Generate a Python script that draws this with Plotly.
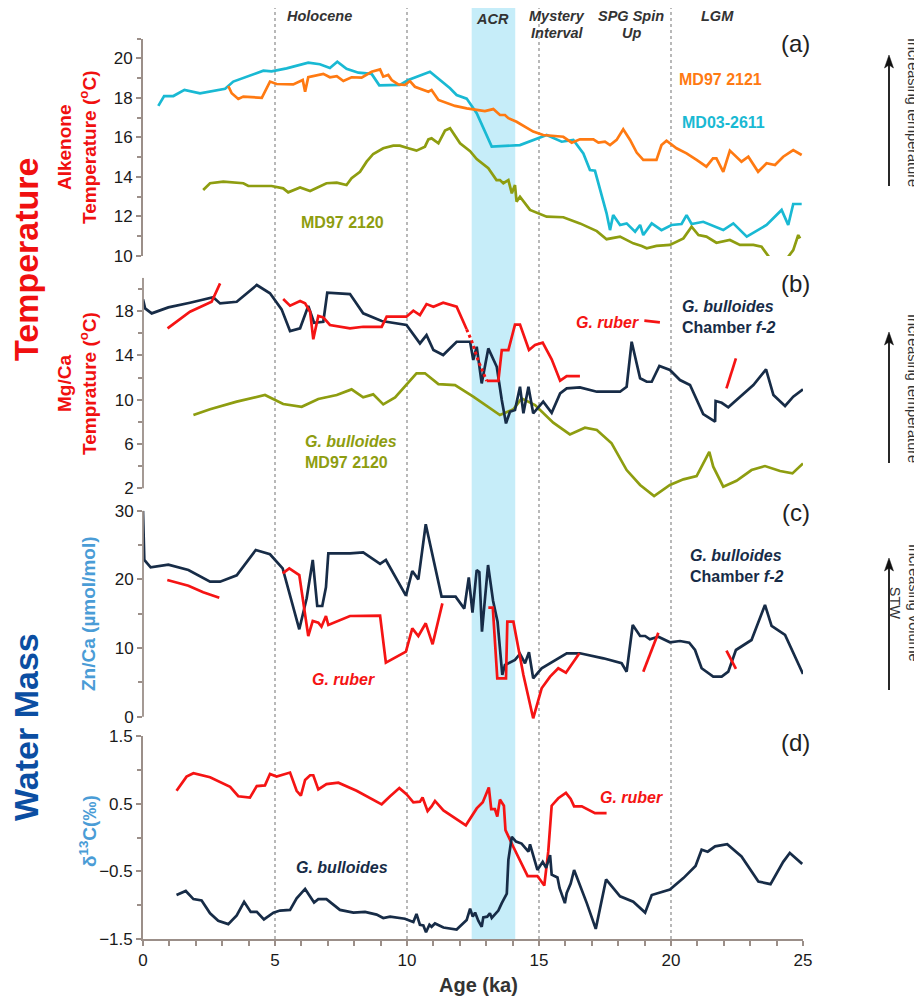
import plotly.graph_objects as go

# ---------------- DATA ----------------
# Panel (a) alkenone temperature (°C)
md03_age = [0.58, 0.80, 1.15, 1.57, 2.16, 3.11, 3.42, 4.56, 4.87, 5.44, 6.26, 6.70, 7.08, 7.36, 7.71, 8.16,
            8.66, 8.95, 9.73, 10.05, 10.87, 11.63, 11.88, 12.26, 12.64, 13.21, 14.28, 15.29, 15.86, 16.30,
            16.68, 16.93, 17.12, 17.56, 17.69, 17.81, 18.07, 18.32, 18.64, 18.83, 18.95, 19.27, 19.64,
            20.02, 20.40, 20.59, 20.78, 21.22, 21.98, 22.36, 22.87, 23.62, 24.19, 24.44, 24.63, 24.95]
md03_t = [17.59, 18.09, 18.09, 18.40, 18.23, 18.46, 18.82, 19.37, 19.34, 19.49, 19.78, 19.70, 19.51, 19.83,
          19.47, 19.27, 19.21, 18.63, 18.65, 18.90, 19.32, 18.48, 18.14, 17.96, 17.22, 15.53, 15.61, 16.12,
          15.78, 15.87, 15.19, 14.35, 14.31, 12.16, 11.31, 12.07, 11.57, 11.65, 11.23, 11.57, 11.06, 11.65,
          11.31, 11.57, 11.62, 12.07, 11.62, 11.73, 11.31, 11.65, 10.98, 11.57, 12.33, 11.57, 12.63, 12.63]

md2121_age = [3.23, 3.36, 3.61, 3.80, 4.50, 4.81, 5.06, 5.69, 6.05, 6.14, 6.26, 6.83, 7.08, 7.34, 7.59, 7.90,
              8.28, 8.66, 8.98, 9.10, 9.29, 9.42, 9.67, 9.92, 10.11, 10.30, 10.81, 10.93, 11.19, 11.82,
              12.26, 12.95, 13.27, 13.52, 13.71, 13.84, 14.15, 14.78, 15.16, 15.92, 16.24, 16.55, 17.06,
              17.25, 17.50, 17.69, 17.94, 18.19, 18.45, 18.70, 18.95, 19.45, 19.64, 19.83, 20.21, 20.59,
              20.97, 21.34, 21.59, 21.72, 21.98, 22.23, 22.67, 22.93, 23.30, 23.62, 23.94, 24.25, 24.63, 24.95]
md2121_t = [18.60, 18.23, 17.94, 18.06, 18.00, 18.82, 18.70, 18.68, 18.90, 18.31, 19.04, 19.21, 19.04, 19.10,
            18.85, 19.04, 19.02, 19.32, 19.44, 19.07, 19.16, 18.90, 18.68, 18.65, 18.85, 18.56, 18.31, 18.40,
            17.89, 17.59, 17.47, 17.33, 17.43, 17.13, 17.13, 16.97, 16.79, 16.29, 16.12, 16.03, 15.73, 15.90,
            15.90, 15.73, 15.78, 15.61, 15.87, 16.41, 15.87, 15.23, 14.86, 14.86, 15.61, 15.83, 15.45, 15.19,
            14.86, 14.52, 14.94, 14.94, 14.26, 15.33, 14.77, 15.02, 14.26, 14.69, 14.60, 15.02, 15.36, 15.11]

md2120_age = [2.28, 2.54, 3.04, 3.80, 3.99, 4.56, 4.87, 5.31, 5.50, 5.95, 6.33, 6.95, 7.34, 7.71, 7.90, 8.22,
              8.47, 8.72, 9.10, 9.48, 9.73, 10.05, 10.36, 10.68, 10.81, 10.93, 11.19, 11.44, 11.63, 12.01,
              12.39, 12.64, 12.89, 13.08, 13.39, 13.52, 13.65, 13.84, 13.97, 14.09, 14.15, 14.28, 14.66,
              15.29, 15.92, 16.55, 17.19, 17.56, 18.07, 18.57, 18.89, 19.08, 19.45, 19.96, 20.47, 20.78,
              21.04, 21.34, 21.72, 22.23, 22.61, 23.12, 23.43, 23.75, 24.06, 24.44, 24.63, 24.82, 24.89]
md2120_t = [13.34, 13.68, 13.76, 13.68, 13.54, 13.54, 13.54, 13.42, 13.22, 13.47, 13.29, 13.68, 13.71, 13.59,
            13.93, 14.26, 14.77, 15.16, 15.45, 15.58, 15.58, 15.45, 15.33, 15.53, 15.90, 15.95, 15.70, 16.34,
            16.46, 15.70, 15.30, 14.90, 14.65, 14.44, 13.84, 13.84, 13.68, 13.84, 13.17, 13.59, 12.75, 13.00,
            12.33, 11.99, 11.96, 11.65, 11.26, 10.85, 10.98, 10.64, 10.51, 10.39, 10.51, 10.56, 10.89, 11.48,
            11.06, 10.98, 10.67, 10.81, 10.56, 10.56, 10.47, 9.88, 9.68, 9.96, 10.30, 11.06, 10.89]

# Panel (b) Mg/Ca temperature (°C)
bul_mg_age = [0.00, 0.08, 0.33, 0.96, 1.78, 2.66, 2.92, 3.55, 4.31, 4.81, 5.25, 5.57, 5.95, 6.26, 6.48, 6.83,
              6.98, 7.84, 8.34, 9.04, 9.98, 10.49, 10.74, 11.00, 11.37, 11.88, 12.39, 12.51, 12.64, 12.83,
              13.08, 13.40, 13.59, 13.75, 13.90, 14.09, 14.28, 14.41, 14.60, 14.78, 15.16, 15.48, 15.80,
              16.05, 16.55, 17.19, 18.07, 18.32, 18.51, 18.83, 19.08, 19.27, 19.56, 19.96, 20.34, 20.72,
              21.22, 21.67, 21.69, 21.92, 22.17, 22.61, 23.12, 23.60, 23.88, 24.32, 24.63, 25.00]
bul_mg_t = [19.06, 18.24, 17.79, 18.33, 18.75, 19.24, 18.69, 18.84, 20.35, 19.60, 18.15, 16.19, 16.44, 18.45,
            16.94, 17.03, 19.65, 19.53, 17.79, 17.10, 16.74, 15.08, 15.83, 14.48, 14.03, 15.23, 15.23, 13.58,
            14.78, 11.47, 14.63, 12.97, 9.97, 7.86, 8.91, 9.07, 11.17, 8.77, 11.17, 8.77, 9.82, 8.82, 10.57,
            11.02, 11.11, 10.72, 10.72, 11.17, 15.23, 11.93, 11.62, 11.62, 13.04, 12.68, 11.77, 11.32, 8.70,
            8.01, 9.88, 9.72, 9.31, 10.27, 11.32, 12.74, 10.42, 9.43, 10.27, 10.93]

olive_mg_age = [1.91, 2.54, 3.55, 4.62, 5.31, 6.01, 6.64, 7.34, 7.90, 8.34, 8.72, 9.10, 9.55, 9.92, 10.36,
                10.68, 11.19, 11.82, 12.51, 13.52, 14.03, 14.34, 14.85, 15.54, 16.17, 16.74, 17.19, 17.75,
                18.32, 18.83, 19.36, 19.96, 20.47, 20.97, 21.45, 21.60, 21.98, 22.48, 23.05, 23.56, 24.13,
                24.60, 25.00]
olive_mg_t = [8.61, 9.13, 9.82, 10.42, 9.61, 9.36, 10.06, 10.42, 10.93, 10.21, 10.48, 9.58, 10.21, 11.17,
              12.38, 12.38, 11.41, 11.32, 10.27, 8.61, 9.13, 10.12, 9.52, 7.92, 6.87, 7.47, 7.26, 6.06, 3.65,
              2.30, 1.30, 2.30, 2.81, 3.11, 5.30, 3.95, 2.15, 2.68, 3.65, 4.01, 3.56, 3.35, 4.25]

ruber_mg1_age = [0.93, 1.78, 2.60, 2.92]
ruber_mg1_t = [16.44, 17.94, 18.84, 20.50]
ruber_mg2_age = [5.31, 5.57, 5.95, 6.14, 6.33, 6.45, 6.64, 6.83, 7.08, 7.84, 8.34, 9.04, 9.23, 9.98, 10.24,
                 10.49, 10.74, 11.00, 11.37, 11.88, 12.26]
ruber_mg2_t = [19.08, 18.48, 18.90, 18.69, 17.94, 15.45, 17.55, 17.43, 16.74, 16.44, 16.58, 16.58, 17.49,
               17.49, 18.03, 17.64, 18.63, 18.39, 18.75, 18.39, 16.35]
ruber_mg_dot_age = [12.26, 12.45, 12.70, 13.02]
ruber_mg_dot_t = [16.35, 15.30, 13.50, 11.70]
ruber_mg3_age = [13.02, 13.46, 13.59, 13.84, 14.09, 14.28, 14.62, 14.85, 15.14, 15.48, 15.80, 16.05, 16.55]
ruber_mg3_t = [11.70, 11.70, 14.48, 14.48, 16.77, 16.77, 14.48, 14.93, 15.14, 13.65, 11.72, 12.13, 12.13]
ruber_mg4_age = [18.99, 19.58]
ruber_mg4_t = [17.13, 16.98]
ruber_mg5_age = [22.10, 22.46]
ruber_mg5_t = [11.02, 13.73]

# Panel (c) Zn/Ca (µmol/mol)
bul_zn_age = [0.00, 0.05, 0.29, 0.96, 1.72, 2.54, 2.92, 3.55, 4.27, 4.81, 5.29, 5.92, 6.20, 6.43, 6.60, 6.79,
              6.93, 7.02, 7.84, 8.34, 8.98, 9.20, 9.96, 10.20, 10.43, 10.71, 11.31, 11.84, 12.17, 12.34,
              12.48, 12.64, 12.74, 12.84, 13.07, 13.26, 13.43, 13.61, 13.71, 14.09, 14.28, 14.47, 14.62,
              14.78, 15.10, 15.73, 16.05, 16.55, 17.44, 18.13, 18.32, 18.55, 18.83, 19.02, 19.20, 19.52,
              19.96, 20.34, 20.69, 20.91, 21.16, 21.60, 21.92, 22.17, 22.46, 23.05, 23.56, 23.81, 24.32, 25.00]
bul_zn = [30.0, 22.82, 21.75, 22.13, 21.36, 19.66, 19.66, 20.59, 24.27, 23.65, 21.61, 12.73, 17.24, 22.82,
          16.12, 16.12, 18.84, 23.79, 23.79, 23.94, 22.24, 22.82, 17.62, 21.22, 20.00, 28.02, 17.48, 17.48,
          15.74, 20.27, 15.15, 21.36, 21.05, 12.38, 22.09, 16.88, 13.83, 6.07, 7.53, 8.26, 9.13, 7.78, 9.38,
          5.59, 7.05, 8.50, 9.23, 9.23, 8.50, 7.78, 6.55, 13.35, 11.75, 11.75, 11.27, 11.65, 10.83, 11.02,
          10.78, 9.71, 7.05, 5.83, 5.83, 6.55, 9.71, 11.17, 16.27, 13.21, 11.90, 6.22]

ruber_zn1_age = [0.92, 1.72, 2.28, 2.89]
ruber_zn1 = [19.90, 19.08, 18.11, 17.33]
ruber_zn2_age = [5.29, 5.54, 5.92, 6.26, 6.43, 6.64, 6.76, 6.93, 7.02, 7.84, 8.98, 9.20, 9.96, 10.20, 10.43,
                 10.71, 10.97, 11.34]
ruber_zn2 = [20.88, 21.61, 20.63, 11.75, 13.94, 13.69, 13.11, 14.66, 13.35, 14.66, 14.71, 7.86, 9.47, 12.87,
             11.75, 13.60, 10.54, 16.51]
ruber_zn3_age = [13.08, 13.25, 13.42, 13.75, 13.80, 14.03, 14.41, 14.78, 15.10, 15.42, 15.73, 16.02, 16.53]
ruber_zn3 = [15.87, 15.87, 5.59, 5.59, 13.83, 13.83, 6.07, -0.24, 4.13, 5.83, 7.05, 6.41, 9.23]
ruber_zn4_age = [18.95, 19.52]
ruber_zn4 = [6.55, 12.23]
ruber_zn5_age = [22.10, 22.46]
ruber_zn5 = [9.61, 6.95]

# Panel (d) δ13C (‰)
ruber_d13_age = [1.27, 1.65, 1.91, 2.54, 3.30, 3.61, 4.05, 4.31, 4.62, 4.81, 5.06, 5.57, 5.82, 5.98, 6.14,
                 6.33, 6.45, 6.64, 6.95, 7.40, 8.09, 9.04, 9.36, 9.71, 9.98, 10.24, 10.49, 10.59, 10.78, 10.93,
                 11.06, 11.38, 12.23, 12.45, 12.64, 12.87, 13.10, 13.19, 13.33, 13.42, 13.52, 13.67, 13.73,
                 14.03, 14.57, 14.94, 15.20, 15.35, 15.48, 15.73, 16.02, 16.20, 16.33, 16.62, 17.12, 17.56]
ruber_d13 = [0.69, 0.90, 0.95, 0.89, 0.75, 0.61, 0.59, 0.76, 0.77, 0.94, 0.90, 0.96, 0.69, 0.62, 0.85,
             0.92, 0.92, 0.71, 0.79, 0.81, 0.69, 0.49, 0.61, 0.73, 0.64, 0.52, 0.53, 0.59, 0.39, 0.46,
             0.54, 0.40, 0.18, 0.31, 0.43, 0.52, 0.74, 0.42, 0.42, 0.31, 0.56, 0.47, 0.11,
             -0.14, -0.57, -0.57, -0.71, -0.21, 0.47, 0.58, 0.66, 0.57, 0.46, 0.46, 0.36, 0.36]

bul_d13_age = [1.27, 1.62, 1.91, 2.22, 2.54, 2.85, 3.23, 3.55, 3.83, 4.08, 4.31, 4.58, 4.94, 5.19, 5.57,
               5.82, 6.14, 6.48, 6.64, 6.95, 7.46, 7.97, 8.41, 8.85, 9.10, 9.36, 9.92, 10.24, 10.36, 10.49,
               10.62, 10.72, 10.85, 10.93, 11.06, 11.38, 11.88, 12.26, 12.39, 12.49, 12.58, 12.70, 12.83,
               12.89, 13.04, 13.14, 13.21, 13.46, 13.59, 13.78, 13.84, 13.97, 14.13, 14.34, 14.60, 14.66,
               14.94, 15.14, 15.27, 15.42, 15.48, 15.70, 15.78, 15.98, 16.05, 16.20, 16.33, 16.81, 17.15,
               17.54, 18.07, 18.57, 19.02, 19.27, 19.96, 20.47, 20.93, 21.16, 21.39, 21.67, 22.13, 22.67,
               23.31, 23.77, 24.25, 24.50, 24.97]
bul_d13 = [-0.85, -0.79, -0.91, -0.93, -1.12, -1.23, -1.28, -1.15, -0.95, -1.10, -1.10, -1.21, -1.11, -1.08,
           -1.07, -0.90, -0.76, -0.96, -0.91, -0.91, -1.07, -1.11, -1.10, -1.14, -1.19, -1.17, -1.20, -1.25,
           -1.13, -1.29, -1.30, -1.40, -1.29, -1.32, -1.27, -1.33, -1.36, -1.22, -1.05, -1.17, -1.11, -1.23,
           -1.32, -1.18, -1.17, -1.12, -1.19, -1.08, -0.97, -0.83, -0.33, 0.01, -0.06, -0.09, -0.21, -0.10,
           -0.48, -0.36, -0.45, -0.26, -0.55, -0.59, -0.75, -0.97, -0.82, -0.68, -0.48, -0.97, -1.35,
           -0.62, -0.87, -0.95, -1.11, -0.85, -0.77, -0.60, -0.42, -0.18, -0.21, -0.13, -0.10, -0.28,
           -0.65, -0.69, -0.36, -0.23, -0.39]

# period labels: one entry per text line
period_lines = ["Holocene", "ACR", "Mystery", "Interval", "SPG Spin", "Up", "LGM"]
period_x = [6.7, 13.25, 15.7, 15.7, 18.5, 18.5, 21.75]
period_row = [0, 0, 0, 1, 0, 1, 0]
boundaries = [5, 10, 15, 20]
acr_band = [12.45, 14.1]

# ---------------- STYLE ----------------
W, H = 922, 1000
OFF = 8                      # default page body margin
SX0, SX1 = 143, 803          # screen x of age 0 and age 25
ML = SX0 - OFF
MR = W - ML - (SX1 - SX0)
FONT = "Liberation Sans, Arial, sans-serif"
AX = "#9b8f89"
CYAN = "#19b9d3"
ORANGE = "#ff7a12"
OLIVE = "#8e9d10"
NAVY = "#172c47"
RED = "#f51414"
LBLUE = "#4a9cd6"


def px(xs):
    return (xs - SX0) / (SX1 - SX0)


def py(ys):
    return 1 - (ys - OFF) / H


fig = go.Figure()


def line(x, y, color, yaxis, width=2.7, dash=None):
    fig.add_trace(go.Scatter(x=x, y=y, mode="lines", yaxis=yaxis, hoverinfo="skip", showlegend=False,
                             line=dict(color=color, width=width, dash=dash)))


# panel a
line(md03_age, md03_t, CYAN, "y")
line(md2121_age, md2121_t, ORANGE, "y")
line(md2120_age, md2120_t, OLIVE, "y")
# panel b
line(olive_mg_age, olive_mg_t, OLIVE, "y2")
line(bul_mg_age, bul_mg_t, NAVY, "y2")
for a, v in [(ruber_mg1_age, ruber_mg1_t), (ruber_mg2_age, ruber_mg2_t), (ruber_mg3_age, ruber_mg3_t),
             (ruber_mg4_age, ruber_mg4_t), (ruber_mg5_age, ruber_mg5_t)]:
    line(a, v, RED, "y2")
line(ruber_mg_dot_age, ruber_mg_dot_t, RED, "y2", width=3, dash="dot")
# panel c
line(bul_zn_age, bul_zn, NAVY, "y3")
for a, v in [(ruber_zn1_age, ruber_zn1), (ruber_zn2_age, ruber_zn2), (ruber_zn3_age, ruber_zn3),
             (ruber_zn4_age, ruber_zn4), (ruber_zn5_age, ruber_zn5)]:
    line(a, v, RED, "y3")
# panel d
line(ruber_d13_age, ruber_d13, RED, "y4")
line(bul_d13_age, bul_d13, NAVY, "y4")

tickfont = dict(family=FONT, size=17, color="#1a1a1a")


def yax(domain, rng, tick0, dtick, mdtick, showline):
    return dict(domain=domain, range=rng, anchor="x", tick0=tick0, dtick=dtick, ticks="outside",
                ticklen=5, tickwidth=1.5, tickcolor=AX, showline=showline, linecolor=AX, linewidth=1.8,
                showgrid=False, zeroline=False, tickfont=tickfont, fixedrange=True, automargin=False,
                minor=dict(dtick=mdtick, tick0=tick0, ticks="outside", ticklen=4, tickwidth=1.5,
                           tickcolor=AX, showgrid=False))


fig.update_layout(
    width=W, height=H, margin=dict(l=ML, r=MR, t=0, b=0, autoexpand=False),
    paper_bgcolor="white", plot_bgcolor="rgba(0,0,0,0)",
    font=dict(family=FONT),
    xaxis=dict(domain=[0, 1], range=[0, 25], anchor="y4", dtick=5, tick0=0, ticks="outside",
               ticklen=5, tickwidth=1.5, tickcolor=AX, showline=True, linecolor=AX, linewidth=1.8,
               showgrid=False, zeroline=False, tickfont=tickfont, automargin=False,
               minor=dict(dtick=1, ticks="outside", ticklen=5, tickwidth=1.5, tickcolor=AX)),
    yaxis=yax([py(256), py(38.5)], [10, 21], 10, 2, 1, True),
    yaxis2=yax([py(498.3), py(277.8)], [1.1, 21], 2, 4, 2, False),
    yaxis3=yax([py(720.1), py(510.7)], [-0.5, 30], 0, 10, 5, False),
    yaxis4=yax([py(939), py(736)], [-1.5, 1.5], -1.5, 1, 0.5, True),
)

shapes = []
shapes.append(dict(type="rect", xref="x", yref="paper", x0=acr_band[0], x1=acr_band[1],
                   y0=py(939), y1=py(8), fillcolor="#c6edf9", line=dict(width=0), layer="below"))
for b in boundaries:
    shapes.append(dict(type="line", xref="x", yref="paper", x0=b, x1=b, y0=py(939), y1=py(8),
                       line=dict(color="#8a8a8a", width=1.2, dash="dot"), layer="below"))
shapes.append(dict(type="line", xref="paper", yref="y2", x0=0, x1=0, y0=2, y1=21,
                   line=dict(color=AX, width=1.8)))
shapes.append(dict(type="line", xref="paper", yref="y3", x0=0, x1=0, y0=0, y1=30,
                   line=dict(color=AX, width=1.8)))
# direction arrows at right (shaft + head)
ARX = 889
for top, bot in [(55, 186), (332, 463), (558, 690)]:
    shapes.append(dict(type="line", xref="paper", yref="paper", x0=px(ARX), x1=px(ARX),
                       y0=py(bot), y1=py(top + 8), line=dict(color="#111111", width=1.8)))
    shapes.append(dict(type="path", xref="paper", yref="paper",
                       path="M {:.5f},{:.5f} L {:.5f},{:.5f} L {:.5f},{:.5f} L {:.5f},{:.5f} Z".format(
                           px(ARX), py(top), px(ARX - 4.5), py(top + 13), px(ARX), py(top + 10),
                           px(ARX + 4.5), py(top + 13)),
                       fillcolor="#111111", line=dict(color="#111111", width=0.5)))
fig.update_layout(shapes=shapes)

ann = []


def text(x, y, t, size, color, xref="x", yref="paper", xanchor="center", angle=0, align="center"):
    ann.append(dict(x=x, y=y, xref=xref, yref=yref, text=t, showarrow=False, xanchor=xanchor,
                    yanchor="middle", textangle=angle, align=align,
                    font=dict(family=FONT, size=size, color=color)))


# period labels
for name, xv, row in zip(period_lines, period_x, period_row):
    yv = 16 + 17 * row if name != "ACR" else 19
    text(xv, py(yv), "<b><i>" + name + "</i></b>", 14.5, "#333333")

# series labels
text(21.86, py(80), "<b>MD97 2121</b>", 16, ORANGE)
text(21.97, py(123), "<b>MD03-2611</b>", 16, CYAN)
text(7.54, py(223), "<b>MD97 2120</b>", 16, OLIVE)
text(6.06, py(452), "<b><i>G. bulloides</i></b><br><b>MD97 2120</b>", 16, OLIVE, xanchor="left", align="left")
text(17.61, py(323), "<b><i>G. ruber</i></b>", 16, RED)
text(20.34, py(317), "<b><i>G. bulloides</i></b><br><b>Chamber <i>f-2</i></b>", 16, NAVY,
     xanchor="left", align="left")
text(20.64, py(566), "<b><i>G. bulloides</i></b><br><b>Chamber <i>f-2</i></b>", 16, NAVY,
     xanchor="left", align="left")
text(7.58, py(679), "<b><i>G. ruber</i></b>", 16, RED)
text(7.54, py(867), "<b><i>G. bulloides</i></b>", 16, NAVY)
text(18.52, py(797), "<b><i>G. ruber</i></b>", 16, RED)

# panel letters
for lab, yv in zip(["(a)", "(b)", "(c)", "(d)"], [43, 283, 512, 742]):
    text(24.73, py(yv), lab, 24, "#222222")

# axis titles
text(px(26), py(260), "<b>Temperature</b>", 34, "#f01010", xref="paper", angle=-90)
text(px(26), py(727), "<b>Water Mass</b>", 34, "#0b4ea2", xref="paper", angle=-90)
text(px(77), py(148), "<b>Alkenone<br>Temperature (<sup>o</sup>C)</b>", 19, "#f01010", xref="paper", angle=-90)
text(px(77), py(384), "<b>Mg/Ca<br>Temprature (<sup>o</sup>C)</b>", 19, "#f01010", xref="paper", angle=-90)
text(px(88), py(614), "<b>Zn/Ca (µmol/mol)</b>", 19, LBLUE, xref="paper", angle=-90)
text(px(88), py(831), "<b>δ<sup>13</sup>C(‰)</b>", 19, LBLUE, xref="paper", angle=-90)
text(12.7, py(985), "<b>Age (ka)</b>", 20, "#333333")

# right side notes
text(px(913), py(112), "Increasing temperature", 14.5, "#333333", xref="paper", angle=90)
text(px(913), py(388), "Increasing temperature", 14.5, "#333333", xref="paper", angle=90)
text(px(905), py(603), "Increasing volume<br>STW", 14.5, "#333333", xref="paper", angle=90)

fig.update_layout(annotations=ann)
fig.write_html("out.html")
